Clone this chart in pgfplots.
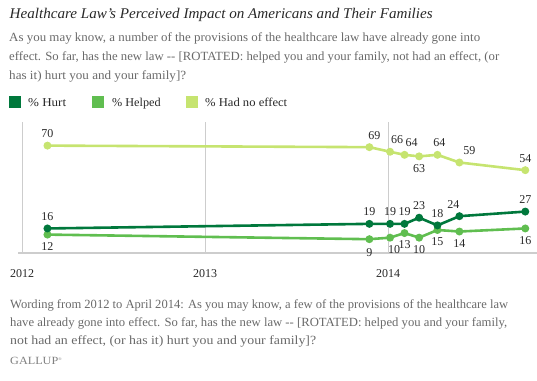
\documentclass[border=0pt]{standalone}
\usepackage{graphicx}
\usepackage{pgfplots}
\pgfplotsset{compat=1.18}
\usepackage{pgfplotstable}
\usepackage{fontspec}
\setmainfont{Liberation Serif}
\newcommand\fitw[2]{\resizebox{#1}{\height}{#2}}
\definecolor{hurt}{RGB}{0,120,60}
\definecolor{helped}{RGB}{96,190,80}
\definecolor{noeff}{RGB}{198,228,112}
\definecolor{bodygray}{RGB}{105,105,105}
\definecolor{txt}{RGB}{40,40,40}
\definecolor{gridgray}{RGB}{205,205,205}

\pgfplotstableread{
x y lx ly
2012.139 16 0 12
2013.898 19 0 12
2014.011 19 0 12
2014.090 19 0 12
2014.170 23 0 12
2014.270 18 0 12
2014.390 24 -6 12
2014.750 27 0 12
}\hurtdata
\pgfplotstableread{
x y lx ly
2012.139 12 0 -12
2013.898 9 0 -13
2014.011 10 4 -12
2014.090 13 0 -12
2014.170 10 0 -12
2014.270 15 0 -12
2014.390 14 0 -12
2014.750 16 0 -12
}\helpeddata
\pgfplotstableread{
x y lx ly
2012.139 70 0 12
2013.898 69 5 12
2014.011 66 7 12
2014.090 64 7 12
2014.170 63 0 -12
2014.270 64 2 12
2014.390 59 10 12
2014.750 54 0 12
}\noeffdata

\begin{document}
\begin{tikzpicture}
\useasboundingbox (0,0) rectangle (537bp,-381bp);
% title and question
\node[anchor=base west, inner sep=0, text=txt, font=\fontsize{14.8bp}{17bp}\selectfont\itshape] at (9.5bp,-18.5bp) {\fitw{423bp}{Healthcare Law's Perceived Impact on Americans and Their Families}};
\begin{scope}[every node/.style={anchor=base west, inner sep=0, text=bodygray, font=\fontsize{12.5bp}{14bp}\selectfont}]
\node at (9bp,-41bp) {\fitw{471bp}{As you may know, a number of the provisions of the healthcare law have already gone into}};
\node at (9bp,-60bp) {\fitw{490bp}{effect. So far, has the new law -{}- [ROTATED: helped you and your family, not had an effect, (or}};
\node at (9bp,-79bp) {\fitw{177bp}{has it) hurt you and your family]?}};
\node at (10bp,-308bp) {\fitw{498bp}{Wording from 2012 to April 2014: As you may know, a few of the provisions of the healthcare law}};
\node at (10bp,-326.5bp) {\fitw{497bp}{have already gone into effect. So far, has the new law -{}- [ROTATED: helped you and your family,}};
\node at (10bp,-344.5bp) {\fitw{306bp}{not had an effect, (or has it) hurt you and your family]?}};
\end{scope}
\node[anchor=base west, inner sep=0, text=gray, font=\fontsize{11bp}{12bp}\selectfont] at (10bp,-364bp) {\fitw{52bp}{GALLUP\textsuperscript{\fontsize{4bp}{4bp}\selectfont ®}}};
% legend
\fill[hurt] (9bp,-96bp) rectangle (21bp,-108bp);
\fill[helped] (92bp,-96bp) rectangle (104bp,-108bp);
\fill[noeff] (186bp,-96bp) rectangle (198bp,-108bp);
\begin{scope}[every node/.style={anchor=base west, inner sep=0, text=txt, font=\fontsize{12bp}{14bp}\selectfont}]
\node at (28bp,-106bp) {\fitw{38bp}{\% Hurt}};
\node at (112bp,-106bp) {\fitw{48.5bp}{\% Helped}};
\node at (205bp,-106bp) {\fitw{82bp}{\% Had no effect}};
\end{scope}
\begin{axis}[
  at={(18bp,-253bp)}, anchor=south west,
  scale only axis, width=519bp, height=131bp,
  xmin=2011.978, xmax=2014.814, ymin=0, ymax=85.4,
  axis x line=bottom, axis y line=none,
  x axis line style={gridgray, line width=1.6bp, -},
  xtick={2012,2013,2014}, xticklabels={2012,2013,2014},
  major tick length=0,
  xmajorgrids, grid style={gridgray, line width=0.8bp},
  xticklabel style={anchor=base, yshift=-24.5bp, text=txt, font=\fontsize{12bp}{14bp}\selectfont},
  ytick=\empty,
  clip=false,
  /pgf/number format/assume math mode=true,
  every axis plot/.append style={line width=2.6bp, mark=*, mark size=2.6bp},
  nodes near coords,
  point meta=y,
  visualization depends on={\thisrow{lx}\as\labx},
  visualization depends on={\thisrow{ly}\as\laby},
  every node near coord/.append style={anchor=center, inner sep=0, xshift=\labx bp, yshift=\laby bp, text=txt, font=\fontsize{12bp}{14bp}\selectfont},
]
\addplot[noeff, mark options={fill=noeff, draw=noeff}] table[x=x,y=y] {\noeffdata};
\addplot[helped, mark options={fill=helped, draw=helped}] table[x=x,y=y] {\helpeddata};
\addplot[hurt, mark options={fill=hurt, draw=hurt}] table[x=x,y=y] {\hurtdata};
\end{axis}
\end{tikzpicture}
\end{document}
